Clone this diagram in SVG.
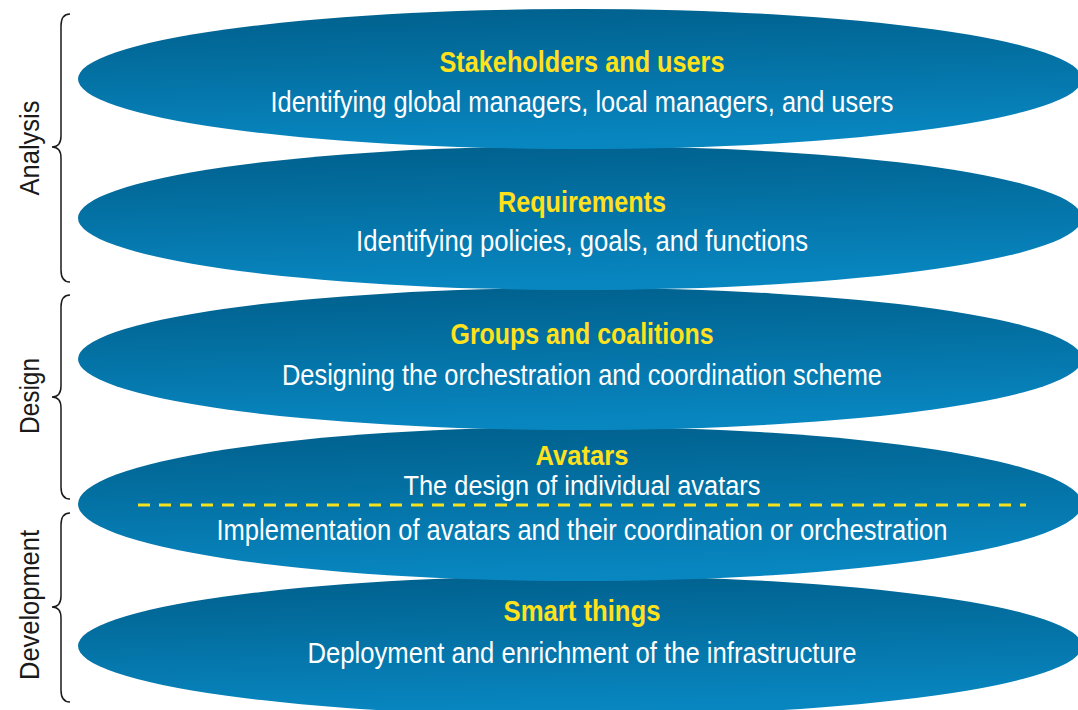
<svg xmlns="http://www.w3.org/2000/svg" width="1078" height="710" viewBox="0 0 1078 710">
  <defs>
    <linearGradient id="g" x1="0" y1="0" x2="0.15" y2="1">
      <stop offset="0" stop-color="#005f8b"/>
      <stop offset="1" stop-color="#0886c0"/>
    </linearGradient>
    <style>
      .ell { fill: url(#g); }
      .title { font-family: "Liberation Sans Narrow", "Liberation Sans", Arial, sans-serif; font-weight: bold; font-size: 29px; fill: #ffe11c; text-anchor: middle; }
      .sub { font-family: "Liberation Sans Narrow", "Liberation Sans", Arial, sans-serif; font-size: 29px; fill: #ffffff; text-anchor: middle; }
      .small { font-size: 27px; }
      .side { font-family: "Liberation Sans Narrow", "Liberation Sans", Arial, sans-serif; font-size: 28px; fill: #1a1a1a; text-anchor: middle; }
      .brace { fill: none; stroke: #1a1a1a; stroke-width: 1.5; }
      .dash { stroke: #f5e21e; stroke-width: 3; stroke-dasharray: 12 9; }
    </style>
  </defs>
  <rect width="1078" height="710" fill="#ffffff"/>

  <g id="braces">
    <g id="analysis">
      <path class="brace" d="M70,14 Q61,14 61,26 L61,136 Q61,147 52,147 Q61,147 61,158 L61,270 Q61,282 70,282"/>
      <text class="side" transform="translate(39,148) rotate(-90)" textLength="95" lengthAdjust="spacingAndGlyphs">Analysis</text>
    </g>
    <g id="design">
      <path class="brace" d="M70,295 Q61,295 61,307 L61,386 Q61,397 52,397 Q61,397 61,408 L61,487 Q61,499 70,499"/>
      <text class="side" transform="translate(39,396) rotate(-90)" textLength="76" lengthAdjust="spacingAndGlyphs">Design</text>
    </g>
    <g id="development">
      <path class="brace" d="M70,513 Q61,513 61,525 L61,596 Q61,607 52,607 Q61,607 61,618 L61,690 Q61,702 70,702"/>
      <text class="side" transform="translate(39,605) rotate(-90)" textLength="150" lengthAdjust="spacingAndGlyphs">Development</text>
    </g>
  </g>

  <g id="connectors"></g>

  <g id="n5">
    <ellipse class="ell" cx="580" cy="646" rx="502" ry="70"/>
    <text class="title" x="582" y="621" textLength="157" lengthAdjust="spacingAndGlyphs">Smart things</text>
    <text class="sub" x="582" y="663" textLength="549" lengthAdjust="spacingAndGlyphs">Deployment and enrichment of the infrastructure</text>
  </g>
  <g id="n4">
    <ellipse class="ell" cx="580" cy="504" rx="502" ry="77"/>
    <text class="title small" x="582" y="465" textLength="93" lengthAdjust="spacingAndGlyphs">Avatars</text>
    <text class="sub small" x="582" y="495" textLength="357" lengthAdjust="spacingAndGlyphs">The design of individual avatars</text>
    <line class="dash" x1="138" y1="505" x2="1026" y2="505"/>
    <text class="sub" x="582" y="540" textLength="731" lengthAdjust="spacingAndGlyphs">Implementation of avatars and their coordination or orchestration</text>
  </g>
  <g id="n3">
    <ellipse class="ell" cx="580" cy="359" rx="502" ry="71"/>
    <text class="title" x="582" y="344" textLength="263" lengthAdjust="spacingAndGlyphs">Groups and coalitions</text>
    <text class="sub" x="582" y="385" textLength="600" lengthAdjust="spacingAndGlyphs">Designing the orchestration and coordination scheme</text>
  </g>
  <g id="n2">
    <ellipse class="ell" cx="580" cy="218" rx="502" ry="72"/>
    <text class="title" x="582" y="212" textLength="168" lengthAdjust="spacingAndGlyphs">Requirements</text>
    <text class="sub" x="582" y="251" textLength="452" lengthAdjust="spacingAndGlyphs">Identifying policies, goals, and functions</text>
  </g>
  <g id="n1">
    <ellipse class="ell" cx="580" cy="79" rx="502" ry="70"/>
    <text class="title" x="582" y="72" textLength="285" lengthAdjust="spacingAndGlyphs">Stakeholders and users</text>
    <text class="sub" x="582" y="112" textLength="623" lengthAdjust="spacingAndGlyphs">Identifying global managers, local managers, and users</text>
  </g>
</svg>
